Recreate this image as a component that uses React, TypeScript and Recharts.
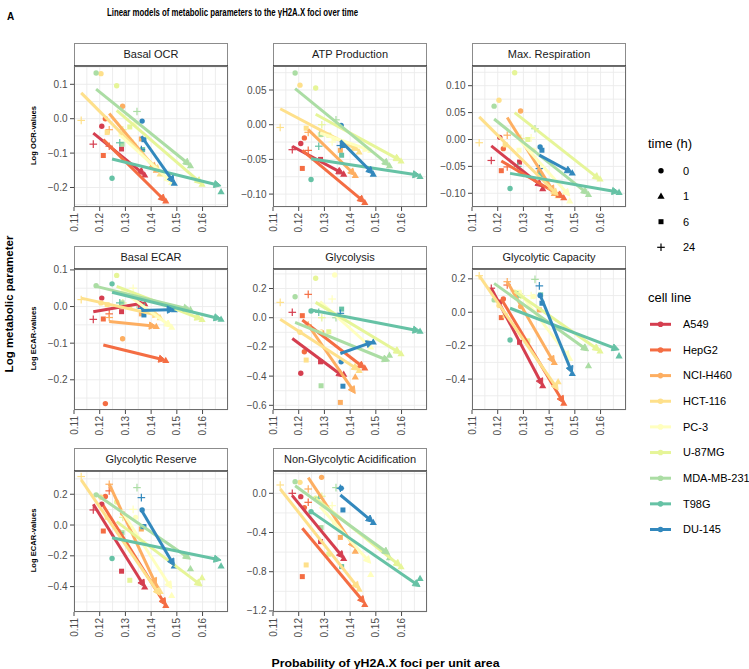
import React from 'react';
import { ScatterChart, Scatter, XAxis, YAxis, CartesianGrid } from 'recharts';

const FONT = '"Liberation Sans", Arial, Helvetica, sans-serif';

// ---------------- data ----------------
const cellLines = ['A549', 'HepG2', 'NCI-H460', 'HCT-116', 'PC-3', 'U-87MG', 'MDA-MB-231', 'T98G', 'DU-145'];
const cellColors = ['#D53E4F', '#F46D43', '#FDAE61', '#FEE08B', '#FFFFBF', '#E6F598', '#ABDDA4', '#66C2A5', '#3288BD'];
const timeLabels = ['0', '1', '6', '24'];

// probability of yH2A.X foci per unit area, per cell line, order: t0, t1, t6, t24
const fociX = [
  [0.1208, 0.1375, 0.1285, 0.1175],
  [0.1222, 0.1457, 0.1214, 0.1237],
  [0.1289, 0.1420, 0.1362, 0.1237],
  [0.1205, 0.1435, 0.1229, 0.1128],
  [0.1340, 0.1480, 0.1283, 0.1330],
  [0.1266, 0.1598, 0.1317, 0.1290],
  [0.1186, 0.1553, 0.1287, 0.1345],
  [0.1248, 0.1672, 0.1367, 0.1278],
  [0.1365, 0.1490, 0.1372, 0.1362],
];

const xMajorTicks = [0.11, 0.12, 0.13, 0.14, 0.15, 0.16];
const xMinorTicks = [0.115, 0.125, 0.135, 0.145, 0.155, 0.165];

const panelTitles = ['Basal OCR', 'ATP Production', 'Max. Respiration', 'Basal ECAR', 'Glycolysis', 'Glycolytic Capacity', 'Glycolytic Reserve', 'Non-Glycolytic Acidification'];

// y values per cell line: t0, t1, t6, t24 ; fits: [value at min x, value at max x]
const basalOcrY = [
  [-0.022, -0.163, -0.088, -0.074],
  [0.0, -0.239, -0.107, -0.08],
  [0.036, -0.149, -0.059, -0.032],
  [0.131, -0.16, -0.04, -0.005],
  [-0.013, -0.185, -0.045, -0.071],
  [0.096, -0.19, -0.024, -0.032],
  [0.133, -0.136, -0.074, 0.021],
  [-0.173, -0.212, -0.09, -0.07],
  [-0.007, -0.187, -0.061, -0.09],
];
const basalOcrFit = [
  [-0.042, -0.163], [-0.061, -0.241], [0.015, -0.149], [0.075, -0.155], [-0.05, -0.185],
  [0.024, -0.19], [0.086, -0.136], [-0.117, -0.195], [-0.051, -0.187],
];

const atpY = [
  [-0.027, -0.071, -0.05, -0.036],
  [-0.019, -0.112, -0.063, -0.037],
  [-0.012, -0.073, -0.037, -0.011],
  [0.057, -0.039, -0.005, -0.004],
  [-0.02, -0.037, -0.015, -0.025],
  [0.053, -0.052, -0.015, 0.0],
  [0.0745, -0.059, -0.014, 0.007],
  [-0.079, -0.0745, -0.044, -0.031],
  [-0.001, -0.071, -0.03, -0.03],
];
const atpFit = [
  [-0.031, -0.071], [-0.037, -0.112], [-0.007, -0.073], [0.023, -0.037], [-0.012, -0.037],
  [0.015, -0.052], [0.052, -0.059], [-0.049, -0.073], [-0.023, -0.071],
];

const maxRespY = [
  [0.004, -0.091, -0.042, -0.039],
  [-0.017, -0.108, -0.058, -0.051],
  [0.053, -0.1, -0.06, 0.008],
  [0.073, -0.104, -0.01, -0.006],
  [-0.02, -0.114, -0.02, 0.003],
  [0.124, -0.073, 0.0, 0.002],
  [0.062, -0.102, -0.063, 0.02],
  [-0.091, -0.098, -0.066, -0.05],
  [-0.014, -0.062, -0.02, -0.054],
];
const maxRespFit = [
  [-0.012, -0.088], [-0.04, -0.108], [0.041, -0.099], [0.042, -0.104], [0.0, -0.105],
  [0.05, -0.075], [0.038, -0.102], [-0.063, -0.098], [-0.029, -0.062],
];

const basalEcarY = [
  [0.023, 0.008, -0.014, -0.035],
  [-0.265, -0.147, -0.034, -0.02],
  [-0.088, -0.054, -0.02, -0.03],
  [0.01, -0.03, 0.005, 0.019],
  [0.03, -0.056, 0.0, 0.05],
  [0.085, -0.035, 0.0, 0.01],
  [0.057, -0.008, 0.01, 0.005],
  [0.062, -0.034, 0.005, 0.01],
  [0.0, -0.008, -0.023, -0.005],
];
const basalEcarFit = [
  [-0.014, 0.01], [-0.105, -0.147], [-0.041, -0.054], [0.023, -0.025], [0.045, -0.056],
  [0.055, -0.035], [0.055, -0.008], [0.039, -0.034], [-0.011, -0.008],
];

const glycolysisY = [
  [-0.38, -0.386, -0.302, 0.037],
  [-0.233, -0.343, 0.014, 0.16],
  [-0.1, -0.405, -0.58, -0.05],
  [-0.1, -0.36, -0.29, 0.105],
  [0.293, -0.2, -0.1, 0.128],
  [0.27, -0.245, -0.096, 0.0],
  [0.144, -0.256, -0.466, 0.0],
  [0.046, -0.091, 0.059, 0.037],
  [-0.302, -0.165, -0.469, 0.03],
];
const glycolysisFit = [
  [-0.142, -0.405], [-0.016, -0.347], [-0.05, -0.519], [-0.011, -0.359], [0.11, -0.2],
  [0.105, -0.245], [-0.032, -0.297], [0.053, -0.091], [-0.245, -0.165],
];

const glycCapY = [
  [0.06, -0.439, -0.18, 0.144],
  [0.08, -0.544, -0.032, 0.163],
  [0.034, -0.3, 0.014, 0.183],
  [0.04, -0.415, -0.02, 0.219],
  [0.094, -0.275, 0.12, 0.1],
  [0.12, -0.231, -0.171, 0.1],
  [0.074, -0.319, 0.1, 0.197],
  [-0.166, -0.26, 0.104, 0.104],
  [0.1, -0.365, 0.054, 0.158],
];
const glycCapFit = [
  [0.144, -0.439], [0.08, -0.544], [0.183, -0.305], [0.219, -0.465], [0.124, -0.275],
  [0.124, -0.231], [0.173, -0.231], [0.024, -0.225], [0.114, -0.365],
];

const glycResY = [
  [0.135, -0.402, -0.3, 0.098],
  [0.185, -0.522, -0.039, 0.222],
  [0.076, -0.391, -0.026, 0.265],
  [0.18, -0.43, 0.05, 0.315],
  [0.05, -0.457, -0.05, 0.102],
  [0.15, -0.341, -0.359, 0.05],
  [0.196, -0.283, -0.05, 0.243],
  [-0.217, -0.265, -0.011, -0.05],
  [0.098, -0.265, -0.01, 0.178],
];
const glycResFit = [
  [0.135, -0.402], [0.126, -0.522], [0.265, -0.391], [0.293, -0.457], [0.098, -0.413],
  [0.022, -0.396], [0.2, -0.222], [-0.083, -0.228], [0.098, -0.265],
];

const nonGlycY = [
  [-0.034, -0.663, -0.493, 0.0],
  [-0.146, -1.132, -0.85, -0.092],
  [0.163, -0.588, -0.45, 0.044],
  [0.112, -0.976, -0.731, 0.085],
  [-0.3, -0.826, -0.35, -0.126],
  [-0.05, -0.748, -0.622, -0.03],
  [0.119, -0.656, -0.35, 0.058],
  [-0.187, -0.867, -0.748, -0.05],
  [0.051, -0.296, -0.17, 0.051],
];
const nonGlycFit = [
  [-0.024, -0.663], [-0.357, -1.122], [0.16, -0.561], [0.044, -0.976], [-0.136, -0.714],
  [-0.051, -0.748], [0.078, -0.622], [-0.187, -0.952], [-0.017, -0.296],
];

const basalOcrTicks = [-0.2, -0.1, 0, 0.1];
const atpTicks = [-0.1, -0.05, 0, 0.05];
const maxRespTicks = [-0.1, -0.05, 0, 0.05, 0.1];
const basalEcarTicks = [-0.2, -0.1, 0, 0.1];
const glycolysisTicks = [-0.6, -0.4, -0.2, 0, 0.2];
const glycCapTicks = [-0.4, -0.2, 0, 0.2];
const glycResTicks = [-0.4, -0.2, 0, 0.2];
const nonGlycTicks = [-1.2, -0.8, -0.4, 0];

const panelY = [basalOcrY, atpY, maxRespY, basalEcarY, glycolysisY, glycCapY, glycResY, nonGlycY];
const panelFit = [basalOcrFit, atpFit, maxRespFit, basalEcarFit, glycolysisFit, glycCapFit, glycResFit, nonGlycFit];
const panelTicks = [basalOcrTicks, atpTicks, maxRespTicks, basalEcarTicks, glycolysisTicks, glycCapTicks, glycResTicks, nonGlycTicks];
const panelDecimals = [1, 2, 2, 1, 1, 1, 1, 1];
const panelDomains: [number, number][] = [
  [-0.2567, 0.1532], [-0.1186, 0.0846], [-0.1255, 0.1366], [-0.2825, 0.1025],
  [-0.632, 0.3336], [-0.585, 0.259], [-0.565, 0.351], [-1.211, 0.2276],
];
const rowYTitles = ['Log OCR-values', 'Log ECAR-values', 'Log ECAR-values'];

// ---------------- layout ----------------
const COL_LEFT = [74, 273, 472];
const ROW_TOP = [66, 269, 471];
const PW = 154;
const PH = 141;
const STRIP_H = 23;
const AX_W = 46;
const AX_H = 36;
const M_TOP = 8;
const M_RIGHT = 6;

const isIn = (arr: number[], v: number) => arr.some((m) => Math.abs(m - v) < 1e-9);
const fmt = (v: number, d: number) => {
  const s = Math.abs(v).toFixed(d);
  return v < -1e-12 ? '\u2212' + s : s;
};

function minorTicks(major: number[], domain: [number, number]) {
  const step = major[1] - major[0];
  const out: number[] = [];
  for (let i = -1; i < major.length; i++) {
    const v = major[0] + step * (i + 0.5);
    if (v >= domain[0] && v <= domain[1]) out.push(+v.toFixed(6));
  }
  return out;
}

const PointShape = (props: any) => {
  const { cx, cy, payload, fill } = props;
  if (cx == null || cy == null) return <g />;
  const t = payload.t;
  if (t === 0) return <circle cx={cx} cy={cy} r={2.7} fill={fill} />;
  if (t === 1) {
    const s = 3.6;
    return <polygon points={`${cx},${cy - s} ${cx - s},${cy + s * 0.75} ${cx + s},${cy + s * 0.75}`} fill={fill} />;
  }
  if (t === 2) return <rect x={cx - 2.5} y={cy - 2.5} width={5} height={5} fill={fill} />;
  return (
    <g stroke={fill} strokeWidth={1.2}>
      <line x1={cx - 3.8} x2={cx + 3.8} y1={cy} y2={cy} />
      <line x1={cx} x2={cx} y1={cy - 3.8} y2={cy + 3.8} />
    </g>
  );
};

const EmptyShape = () => <g />;

const makeArrowLine = (color: string) => (props: any) => {
  const pts = props && props.points;
  if (!pts || pts.length < 2) return <g />;
  const a = pts[0];
  const b = pts[pts.length - 1];
  const dx = b.x - a.x;
  const dy = b.y - a.y;
  const len = Math.hypot(dx, dy) || 1;
  const ux = dx / len;
  const uy = dy / len;
  const L = 7;
  const W = 3.6;
  const bx = b.x - ux * L;
  const by = b.y - uy * L;
  const poly = `${b.x},${b.y} ${bx - uy * W},${by + ux * W} ${bx + uy * W},${by - ux * W}`;
  return (
    <g>
      <line x1={a.x} y1={a.y} x2={bx + ux * 1.5} y2={by + uy * 1.5} stroke={color} strokeWidth={3} />
      <polygon points={poly} fill={color} stroke={color} strokeWidth={1} strokeLinejoin="miter" />
    </g>
  );
};

const XTick = (props: any) => {
  const { x, y, payload } = props;
  const v = payload.value;
  if (!isIn(xMajorTicks, v)) return <g />;
  const ty = y + 6;
  return (
    <g>
      <line x1={x} x2={x} y1={y} y2={y + 4} stroke="#333333" strokeWidth={0.9} />
      <text x={x} y={ty} transform={`rotate(-90 ${x} ${ty})`} textAnchor="end" dy="0.35em" fontSize={10} fill="#4D4D4D" fontFamily={FONT}>
        {v.toFixed(2)}
      </text>
    </g>
  );
};

const makeYTick = (major: number[], decimals: number) => (props: any) => {
  const { x, y, payload } = props;
  const v = payload.value;
  if (!isIn(major, v)) return <g />;
  return (
    <g>
      <line x1={x - 4} x2={x} y1={y} y2={y} stroke="#333333" strokeWidth={0.9} />
      <text x={x - 6.5} y={y} dy="0.35em" textAnchor="end" fontSize={10} fill="#4D4D4D" fontFamily={FONT}>
        {fmt(v, decimals)}
      </text>
    </g>
  );
};

function Panel({ idx }: { idx: number }) {
  const col = idx % 3;
  const row = Math.floor(idx / 3);
  const left = COL_LEFT[col];
  const top = ROW_TOP[row];
  const domain = panelDomains[idx];
  const major = panelTicks[idx];
  const yTicks = [...major, ...minorTicks(major, domain)].sort((a, b) => a - b);
  const xTicks = [...xMajorTicks, ...xMinorTicks].sort((a, b) => a - b);
  const ys = panelY[idx];
  const fits = panelFit[idx];
  return (
    <div style={{ position: 'absolute', left: left - AX_W, top: top - M_TOP }}>
      <ScatterChart
        width={AX_W + PW + M_RIGHT}
        height={PH + AX_H + M_TOP}
        margin={{ top: M_TOP, right: M_RIGHT, bottom: 0, left: 0 }}
      >
        <CartesianGrid stroke="#EBEBEB" strokeWidth={0.9} />
        <XAxis
          type="number"
          dataKey="x"
          domain={[0.11, 0.1699]}
          ticks={xTicks}
          interval={0}
          allowDataOverflow
          tickSize={0}
          tickMargin={0}
          axisLine={false}
          tickLine={false}
          height={AX_H}
          tick={<XTick />}
        />
        <YAxis
          type="number"
          dataKey="y"
          domain={domain}
          ticks={yTicks}
          interval={0}
          allowDataOverflow
          tickSize={0}
          tickMargin={0}
          axisLine={false}
          tickLine={false}
          width={AX_W}
          tick={makeYTick(major, panelDecimals[idx])}
        />
        {cellLines.map((name, i) => (
          <Scatter
            key={'pt' + name}
            name={name}
            data={timeLabels.map((_, k) => ({ x: fociX[i][k], y: ys[i][k], t: k }))}
            fill={cellColors[i]}
            shape={PointShape}
            isAnimationActive={false}
          />
        ))}
        {cellLines.map((name, i) => (
          <Scatter
            key={'fit' + name}
            name={name + ' fit'}
            data={[
              { x: Math.min(...fociX[i]), y: fits[i][0] },
              { x: Math.max(...fociX[i]), y: fits[i][1] },
            ]}
            fill={cellColors[i]}
            shape={EmptyShape}
            line={makeArrowLine(cellColors[i])}
            isAnimationActive={false}
          />
        ))}
      </ScatterChart>
    </div>
  );
}

export default function App() {
  const legendTimeY = [170.7, 196, 221.7, 247.3];
  return (
    <div style={{ position: 'absolute', left: 0, top: 0, width: 749, height: 669, background: '#fff', fontFamily: FONT }}>
      {panelTitles.map((_, i) => (
        <Panel key={i} idx={i} />
      ))}
      <svg width={749} height={669} style={{ position: 'absolute', left: 0, top: 0, pointerEvents: 'none' }}>
        <text x={7} y={20} fontSize={10} fontWeight="bold" fill="#000" fontFamily={FONT}>A</text>
        <text x={107} y={16} fontSize={10.5} fontWeight="bold" fill="#000" fontFamily={FONT} textLength={251} lengthAdjust="spacingAndGlyphs">
          Linear models of metabolic parameters to the γH2A.X foci over time
        </text>
        {panelTitles.map((title, i) => {
          const left = COL_LEFT[i % 3];
          const top = ROW_TOP[Math.floor(i / 3)];
          return (
            <g key={title}>
              <rect x={left + 0.5} y={top - STRIP_H + 0.5} width={PW - 1} height={STRIP_H} fill="#fff" stroke="#8c8c8c" strokeWidth={1} />
              <line x1={left} x2={left + PW} y1={top} y2={top} stroke="#333" strokeWidth={1.3} />
              <text x={left + PW / 2} y={top - STRIP_H / 2} dy="0.35em" textAnchor="middle" fontSize={11} fill="#1A1A1A" fontFamily={FONT}>
                {title}
              </text>
              <rect x={left + 0.5} y={top + 0.5} width={PW - 1} height={PH - 1} fill="none" stroke="#6e6e6e" strokeWidth={1} />
            </g>
          );
        })}
        {rowYTitles.map((t, r) => {
          const cy = ROW_TOP[r] + PH / 2 - 1;
          return (
            <text key={r} x={33} y={cy} transform={`rotate(-90 33 ${cy})`} textAnchor="middle" dy="0.35em" fontSize={7.6} fontWeight="bold" fill="#000" fontFamily={FONT}>
              {t}
            </text>
          );
        })}
        <text x={9} y={304} transform="rotate(-90 9 304)" textAnchor="middle" dy="0.35em" fontSize={11.5} fontWeight="bold" fill="#000" fontFamily={FONT}>
          Log metabolic parameter
        </text>
        <text x={271.5} y={667} fontSize={10.5} fontWeight="bold" fill="#000" fontFamily={FONT} textLength={228} lengthAdjust="spacingAndGlyphs">
          Probability of γH2A.X foci per unit area
        </text>
        {/* legend: time */}
        <text x={648} y={148} fontSize={13} fill="#000" fontFamily={FONT}>time (h)</text>
        {timeLabels.map((lab, k) => {
          const cy = legendTimeY[k];
          return (
            <g key={lab}>
              {PointShape({ cx: 661, cy, payload: { t: k }, fill: '#000' })}
              <text x={683} y={cy} dy="0.35em" fontSize={11} fill="#000" fontFamily={FONT}>{lab}</text>
            </g>
          );
        })}
        {/* legend: cell line */}
        <text x={648} y={302} fontSize={13} fill="#000" fontFamily={FONT}>cell line</text>
        {cellLines.map((name, i) => {
          const cy = 324.3 + 25.65 * i;
          return (
            <g key={name}>
              <line x1={650} x2={671} y1={cy} y2={cy} stroke={cellColors[i]} strokeWidth={3} />
              <circle cx={660.5} cy={cy} r={2.8} fill={cellColors[i]} />
              <text x={683} y={cy} dy="0.35em" fontSize={11} fill="#000" fontFamily={FONT}>{name}</text>
            </g>
          );
        })}
      </svg>
    </div>
  );
}
